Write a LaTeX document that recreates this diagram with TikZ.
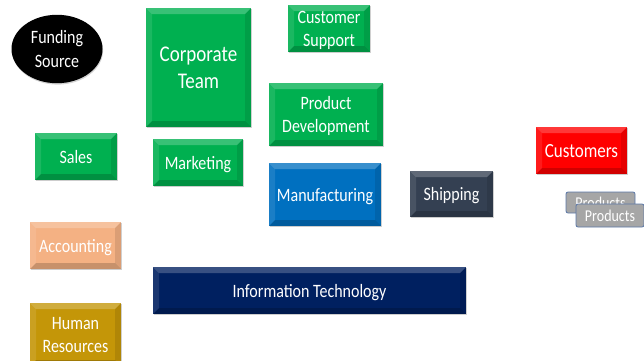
\documentclass[tikz,border=0pt]{standalone}
\usepackage{fontspec}
\usepackage{graphicx}
\setmainfont{Carlito}
\usetikzlibrary{shapes.geometric}
\usetikzlibrary{shadows}
\definecolor{boxgreen}{RGB}{0,176,80}
\definecolor{boxblue}{RGB}{0,112,192}
\definecolor{boxslate}{RGB}{52,64,82}
\definecolor{boxred}{RGB}{255,0,0}
\definecolor{boxpeach}{RGB}{244,177,131}
\definecolor{boxgold}{RGB}{196,150,8}
\definecolor{boxnavy}{RGB}{0,32,96}
\definecolor{prodgray}{RGB}{166,166,166}
\definecolor{prodedge}{RGB}{92,120,168}
\newcommand{\tall}[1]{\raisebox{-2pt}[\height][\depth]{\scalebox{1}[1.18]{\begin{tabular}{@{}c@{}}#1\end{tabular}}}}
\tikzset{bevel/.style = {path picture = {
  \fill[white, opacity = 0.22] (path picture bounding box.north west) -- (path picture bounding box.north east) -- ([xshift = -6pt, yshift = -6pt]path picture bounding box.north east) -- ([xshift = 6pt, yshift = -6pt]path picture bounding box.north west) -- cycle;
  \fill[white, opacity = 0.1] (path picture bounding box.north west) -- ([xshift = 6pt, yshift = -6pt]path picture bounding box.north west) -- ([xshift = 6pt, yshift = 6pt]path picture bounding box.south west) -- (path picture bounding box.south west) -- cycle;
  \fill[black, opacity = 0.18] (path picture bounding box.south west) -- (path picture bounding box.south east) -- ([xshift = -6pt, yshift = 6pt]path picture bounding box.south east) -- ([xshift = 6pt, yshift = 6pt]path picture bounding box.south west) -- cycle;
  \fill[black, opacity = 0.1] (path picture bounding box.north east) -- ([xshift = -6pt, yshift = -6pt]path picture bounding box.north east) -- ([xshift = -6pt, yshift = 6pt]path picture bounding box.south east) -- (path picture bounding box.south east) -- cycle;}}}
\tikzset{box/.style = {rectangle, inner sep = 0, outer sep = 0, text = white, align = center, font = \fontsize{16}{19.5}\selectfont, drop shadow = {shadow xshift = 0.6pt, shadow yshift = -1.4pt, opacity = 0.35}, bevel}}
\tikzset{prod/.style = {rectangle, rounded corners = 2pt, fill = prodgray, draw = prodedge, line width = 0.8pt, text = white, inner sep = 0, font = \fontsize{14}{16}\selectfont}}

\begin{document}
\begin{tikzpicture}[x = 1pt, y = -1pt]
        \useasboundingbox (0,0) rectangle (644,360);
        \clip (0,0) rectangle (644,360);
        \node [ellipse, fill = black, text = white, inner sep = 0, minimum width = 91, minimum height = 60, font = \fontsize{16}{20.5}\selectfont, drop shadow = {shadow xshift = 0.6pt, shadow yshift = -1.4pt, opacity = 0.35}] (fund) at (57,49) {\tall{Funding\\Source}};
        \node [box, fill = boxgreen, minimum width = 105, minimum height = 119, font = \fontsize{19}{22.5}\selectfont] (corp) at (198.5,67.5) {\tall{Corporate\\Team}};
        \node [box, fill = boxgreen, minimum width = 82, minimum height = 47] (support) at (329,28.5) {\tall{Customer\\Support}};
        \node [box, fill = boxgreen, minimum width = 114, minimum height = 63] (dev) at (326,114.5) {\tall{Product\\Development}};
        \node [box, fill = boxgreen, minimum width = 82, minimum height = 47] (sales) at (76,156.5) {\tall{Sales}};
        \node [box, fill = boxgreen, minimum width = 90, minimum height = 47] (mkt) at (198,162.5) {\tall{Marketing}};
        \node [box, fill = boxblue, minimum width = 112, minimum height = 63] (mfg) at (325,194.5) {\tall{Manufacturing}};
        \node [box, fill = boxslate, minimum width = 83, minimum height = 46] (ship) at (451.5,194) {\tall{Shipping}};
        \node [box, fill = boxred, minimum width = 91, minimum height = 47, font = \fontsize{17}{20}\selectfont] (cust) at (581.5,150.5) {\tall{Customers}};
        \node [prod, minimum width = 69, minimum height = 21] (prodback) at (600.5,202.5) {\tall{Products}};
        \node [prod, minimum width = 68, minimum height = 23] (prodfront) at (610,215.5) {\tall{Products}};
        \node [box, fill = boxpeach, minimum width = 91, minimum height = 47] (acct) at (75.5,245.5) {\tall{Accounting}};
        \node [box, fill = boxnavy, minimum width = 313, minimum height = 47] (it) at (309.5,290.5) {\tall{Information Technology}};
        \node [box, fill = boxgold, minimum width = 91, minimum height = 63] (hr) at (75.5,334.5) {\tall{Human\\Resources}};
    \end{tikzpicture}
\end{document}
